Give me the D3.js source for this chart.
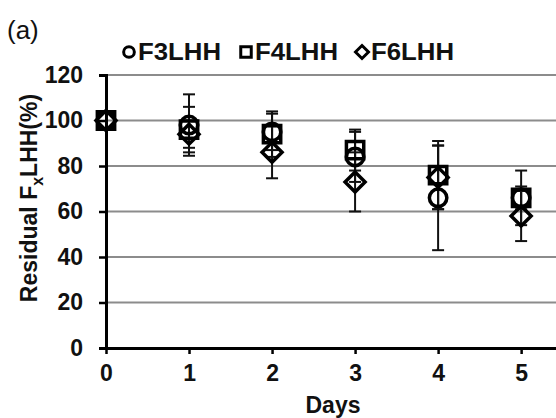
<!DOCTYPE html>
<meta charset="utf-8">
<script src="https://d3js.org/d3.v7.min.js"></script>
<style>
  body { margin: 0; background: #fff; }
  text { font-family: "Liberation Sans", Arial, sans-serif; }
</style>
<div id="chart"></div>
<script>

// data
var days = [0, 1, 2, 3, 4, 5];
var yTicks = [0, 20, 40, 60, 80, 100, 120];
var seriesNames = ["F3LHH", "F4LHH", "F6LHH"];
var f3 = [100, 98, 95, 84, 66, 66];
var f3Err = [0, 13.5, 8, 11, 23, 12];
var f4 = [100, 96, 94, 87, 76, 66];
var f4Err = [0, 10, 10, 9, 15, 5];
var f6 = [100, 94, 86, 73, 75, 58];
var f6Err = [0, 6, 11.4, 13, 14, 11];

var W = 556, H = 418;

var svg = d3.select("#chart")
    .append("svg")
    .attr("width", W)
    .attr("height", H);

var x = d3.scaleLinear().domain([0, 5.42]).range([106, 556]);
var y = d3.scaleLinear().domain([0, 120]).range([348, 75]);

// grid lines
svg.append("g")
    .selectAll("line")
    .data(yTicks.filter(function (d) { return d > 0; }))
    .join("line")
    .attr("x1", x(0))
    .attr("x2", W)
    .attr("y1", function (d) { return y(d); })
    .attr("y2", function (d) { return y(d); })
    .attr("stroke", "#8c8c8c")
    .attr("stroke-width", 2);

// y axis
var yAxis = svg.append("g")
    .attr("transform", `translate(${x(0)},0)`)
    .call(d3.axisLeft(y).tickValues(yTicks).tickFormat(d3.format("d")).tickSize(7).tickPadding(16));
yAxis.select(".domain").attr("stroke", "#000").attr("stroke-width", 3);
yAxis.selectAll(".tick line").attr("stroke", "#000").attr("stroke-width", 2.5);
yAxis.selectAll("text")
    .style("font-size", "23px")
    .style("font-weight", "bold")
    .attr("fill", "#111");

// x axis
var xAxis = svg.append("g")
    .attr("transform", `translate(0,${y(0)})`)
    .call(d3.axisBottom(x).tickValues(days).tickFormat(d3.format("d")).tickSize(6).tickPadding(11).tickSizeOuter(0));
xAxis.select(".domain").attr("stroke", "#000").attr("stroke-width", 3);
xAxis.selectAll(".tick line").attr("stroke", "#000").attr("stroke-width", 2.5);
xAxis.selectAll("text")
    .style("font-size", "23px")
    .style("font-weight", "bold")
    .attr("fill", "#111");

// axis titles
svg.append("text")
    .attr("x", 333).attr("y", 413)
    .attr("text-anchor", "middle")
    .style("font-size", "23px").style("font-weight", "bold")
    .attr("fill", "#111")
    .text("Days");

var ylab = svg.append("text")
    .attr("transform", "translate(37,198) rotate(-90)")
    .attr("text-anchor", "middle")
    .style("font-size", "23px").style("font-weight", "bold")
    .attr("fill", "#111");
ylab.append("tspan").text("Residual F");
ylab.append("tspan").attr("dy", 6).style("font-size", "16px").text("x");
ylab.append("tspan").attr("dy", -6).text("LHH(%)");

svg.append("text")
    .attr("x", 7).attr("y", 39)
    .style("font-size", "26px")
    .attr("fill", "#111")
    .text("(a)");

// markers
var symCircle = d3.symbol().type(d3.symbolCircle).size(240);
var symSquare = d3.symbol().type(d3.symbolSquare).size(300);
var symDiamond = function (s) {
    return `M0,${-s}L${s},0L0,${s}L${-s},0Z`;
};
var shapes = [symCircle(), symSquare(), symDiamond(10)];
var legendShapes = [d3.symbol().type(d3.symbolCircle).size(90)(),
    d3.symbol().type(d3.symbolSquare).size(110)(), symDiamond(6.5)];

var series = [
    {name: seriesNames[0], vals: f3, err: f3Err, shape: shapes[0]},
    {name: seriesNames[1], vals: f4, err: f4Err, shape: shapes[1]},
    {name: seriesNames[2], vals: f6, err: f6Err, shape: shapes[2]}
];

// error bars
series.forEach(function (s) {
    var g = svg.append("g").attr("stroke", "#111").attr("stroke-width", 2);
    var pts = days.map(function (d, i) { return {d: d, v: s.vals[i], e: s.err[i]}; })
        .filter(function (p) { return p.e > 0; });
    g.selectAll(".bar").data(pts).join("line")
        .attr("x1", function (p) { return x(p.d); })
        .attr("x2", function (p) { return x(p.d); })
        .attr("y1", function (p) { return y(p.v + p.e); })
        .attr("y2", function (p) { return y(p.v - p.e); });
    g.selectAll(".capt").data(pts).join("line")
        .attr("x1", function (p) { return x(p.d) - 6; })
        .attr("x2", function (p) { return x(p.d) + 6; })
        .attr("y1", function (p) { return y(p.v + p.e); })
        .attr("y2", function (p) { return y(p.v + p.e); });
    g.selectAll(".capb").data(pts).join("line")
        .attr("x1", function (p) { return x(p.d) - 6; })
        .attr("x2", function (p) { return x(p.d) + 6; })
        .attr("y1", function (p) { return y(p.v - p.e); })
        .attr("y2", function (p) { return y(p.v - p.e); });
});

// the points
series.forEach(function (s) {
    svg.append("g")
        .selectAll("path")
        .data(s.vals)
        .join("path")
        .attr("d", s.shape)
        .attr("transform", function (v, i) { return `translate(${x(days[i])},${y(v)})`; })
        .attr("fill", "none")
        .attr("stroke", "#000")
        .attr("stroke-width", 3.5);
});

// legend
var legX = [129, 246, 362];
series.forEach(function (s, i) {
    svg.append("path")
        .attr("d", legendShapes[i])
        .attr("transform", `translate(${legX[i]},52)`)
        .attr("fill", "none")
        .attr("stroke", "#000")
        .attr("stroke-width", 3);
    svg.append("text")
        .attr("x", legX[i] + 9).attr("y", 60)
        .attr("textLength", 83)
        .attr("lengthAdjust", "spacingAndGlyphs")
        .style("font-size", "23px").style("font-weight", "bold")
        .attr("fill", "#111")
        .text(s.name);
});

</script>
